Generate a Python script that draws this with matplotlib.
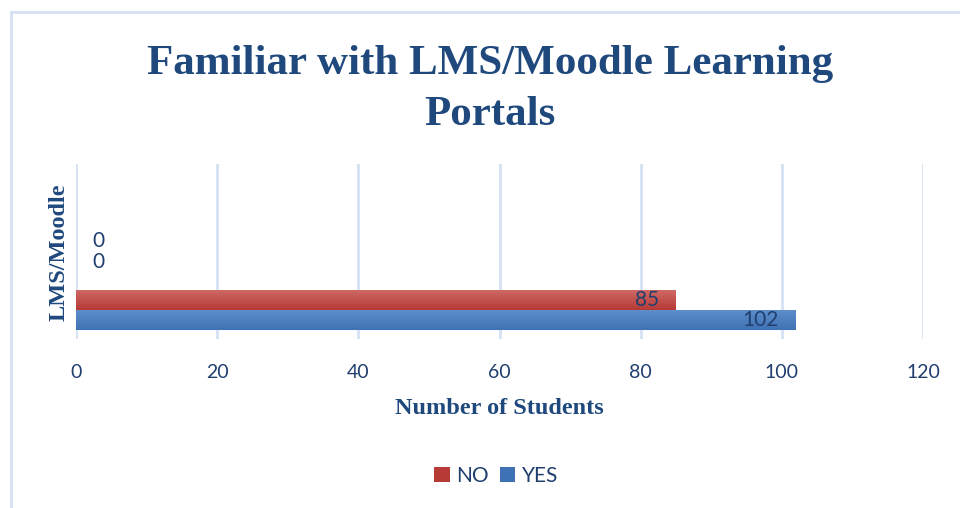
import numpy as np
import matplotlib
matplotlib.use('Agg')
import matplotlib.pyplot as plt
from matplotlib.patches import Patch
from matplotlib.lines import Line2D

# data
categories = ['LMS/Moodle', '', '']
no_vals = [85, 0, np.nan]
yes_vals = [102, 0, np.nan]
x_ticks = [0, 20, 40, 60, 80, 100, 120]

title_col = '#1F497D'
text_col = '#1F3F6F'
grid_col = '#D6E2F3'
red_top, red_bot = '#CF6A66', '#B73A36'
blue_top, blue_bot = '#5F8FCB', '#3F72B4'

fig = plt.figure(figsize=(9.6, 5.08), dpi=100)
ax = fig.add_axes([76 / 960, 1 - 339 / 508, (923 - 76) / 960, (339 - 164) / 508])

y = np.arange(len(categories))
h = 0.343


def gradient_bars(bars, c_top, c_bot):
    grad = np.linspace(0, 1, 64).reshape(-1, 1)
    cmap = matplotlib.colors.LinearSegmentedColormap.from_list('g', [c_top, c_bot])
    for b in bars:
        w = b.get_width()
        if not np.isfinite(w) or w <= 0:
            continue
        x0, y0 = b.get_x(), b.get_y()
        im = ax.imshow(grad, cmap=cmap, aspect='auto', origin='upper',
                       extent=[x0, x0 + w, y0, y0 + b.get_height()], zorder=3)
        im.set_clip_path(b)


bars_no = ax.barh(y + h / 2, no_vals, height=h, color=red_bot, zorder=2)
bars_yes = ax.barh(y - h / 2, yes_vals, height=h, color=blue_bot, zorder=2)
gradient_bars(bars_no, red_top, red_bot)
gradient_bars(bars_yes, blue_top, blue_bot)

# data labels
for vals, off in [(no_vals, h / 2), (yes_vals, -h / 2)]:
    for yi, v in zip(y, vals):
        if not np.isfinite(v):
            continue
        if v > 0:
            ax.annotate(str(int(v)), (v, yi + off), xytext=(-17, 0), textcoords='offset pixels',
                        ha='right', va='center', fontsize=15, color=text_col,
                        family='Lato', zorder=5)
        else:
            ax.annotate(str(int(v)), (v, yi + off), xytext=(16, 0), textcoords='offset pixels',
                        ha='left', va='center', fontsize=15, color=text_col,
                        family='Lato', zorder=5)

ax.set_xlim(0, 120)
ax.set_ylim(-0.5, len(categories) - 0.5)
ax.set_xticks(x_ticks)
ax.set_yticks([])
ax.tick_params(axis='x', length=0, pad=18, labelsize=14, labelcolor=text_col)
for lab in ax.get_xticklabels():
    lab.set_family('Lato')
ax.grid(axis='x', color=grid_col, linewidth=2, zorder=0)
for s in ax.spines.values():
    s.set_visible(False)

fig.text(499.5 / 960, 1 - 408 / 508, 'Number of Students', ha='center', va='center',
         fontsize=17.5, fontweight='bold', family='Liberation Serif', color=title_col)
fig.text(59 / 960, 1 - 252 / 508, 'LMS/Moodle', rotation=90, ha='center', va='center',
         fontsize=17.5, fontweight='bold', family='Liberation Serif', color=title_col)

fig.text(490 / 960, 1 - 45 / 508, 'Familiar with LMS/Moodle Learning\nPortals', ha='center', va='top',
         fontsize=31, fontweight='bold', family='Liberation Serif', color=title_col, linespacing=1.45)

handles = [Patch(facecolor=red_bot, label='NO'), Patch(facecolor=blue_bot, label='YES')]
leg = fig.legend(handles=handles, loc='center', bbox_to_anchor=(496 / 960, 1 - 476 / 508),
                 ncol=2, frameon=False, handlelength=0.75, handleheight=0.75, handletextpad=0.3,
                 columnspacing=0.55, prop={'family': 'Lato', 'size': 15})
for t in leg.get_texts():
    t.set_color(text_col)

# chart frame
fig.add_artist(Line2D([11 / 960, 11 / 960], [0, 1 - 12 / 508], transform=fig.transFigure,
                      color=grid_col, linewidth=2))
fig.add_artist(Line2D([11 / 960, 1], [1 - 12 / 508, 1 - 12 / 508], transform=fig.transFigure,
                      color=grid_col, linewidth=2))

fig.savefig('out.png', dpi=100)
